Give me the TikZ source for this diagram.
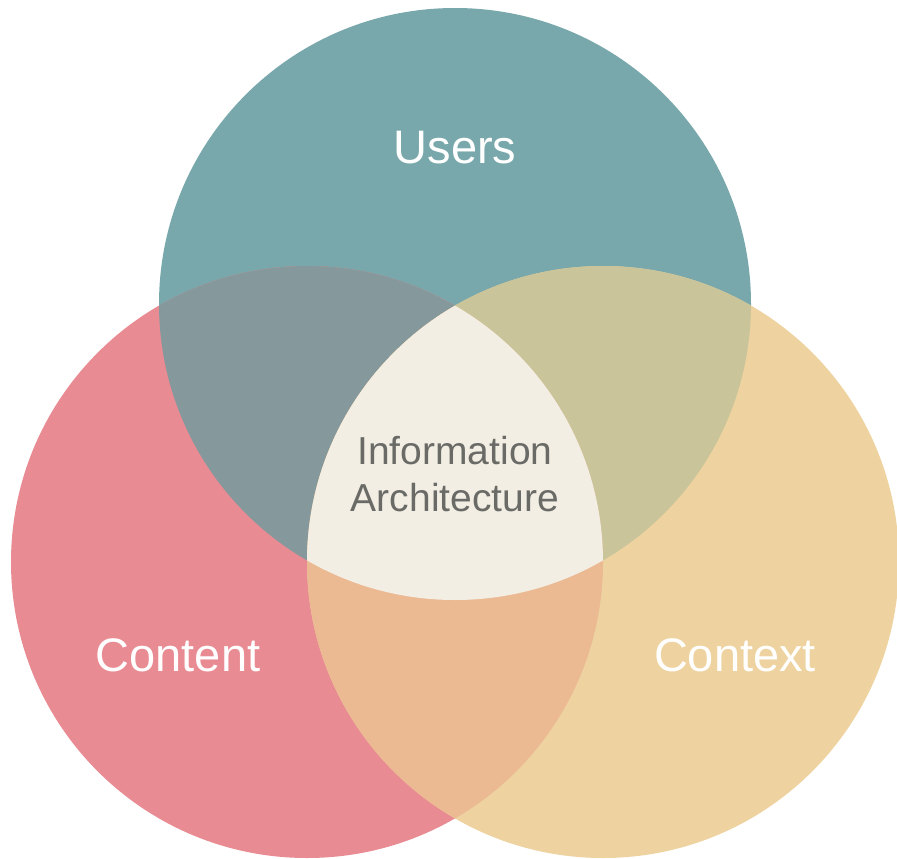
\documentclass[tikz,border=0pt]{standalone}
\usepackage{fontspec}
\setmainfont{Liberation Sans}
\usepackage{xcolor}
\usepackage{tikz}

\definecolor{usersteal}{HTML}{78A8AB}
\definecolor{contentpink}{HTML}{E98B93}
\definecolor{contextsand}{HTML}{EED3A0}
\definecolor{userscontent}{HTML}{85989B}
\definecolor{userscontext}{HTML}{CAC49A}
\definecolor{contentcontext}{HTML}{EBB992}
\definecolor{iacream}{HTML}{F2EEE4}
\definecolor{iagray}{HTML}{6A6A66}

\begin{document}
\begin{tikzpicture}[
    x=1pt, y=-1pt,
    setlabel/.style={font=\fontsize{47}{55}\selectfont, text=white},
    corelabel/.style={font=\fontsize{39}{47}\selectfont, text=iagray, align=center}
]
\useasboundingbox (0,0) rectangle (897,859);
\fill[white] (0,0) rectangle (897,859);

% Circle centres
\coordinate (users) at (455,304);
\coordinate (content) at (307,562);
\coordinate (context) at (603,562);

% Base circles
\fill[usersteal] (users) circle (296);
\fill[contentpink] (content) circle (296);
\fill[contextsand] (context) circle (296);

% Pairwise overlaps
\begin{scope}
  \clip (users) circle (296);
  \fill[userscontent] (content) circle (296);
  \fill[userscontext] (context) circle (296);
\end{scope}
\begin{scope}
  \clip (content) circle (296);
  \fill[contentcontext] (context) circle (296);
\end{scope}

% Centre overlap
\begin{scope}
  \clip (users) circle (296);
  \clip (content) circle (296);
  \fill[iacream] (context) circle (296);
\end{scope}

% Labels
\node[setlabel] (userslabel) at (455,148) {Users};
\node[setlabel] (contentlabel) at (178,655) {Content};
\node[setlabel] (contextlabel) at (735,655) {Context};
\node[corelabel] (ialabel) at (455,474) {Information\\Architecture};

\end{tikzpicture}
\end{document}
